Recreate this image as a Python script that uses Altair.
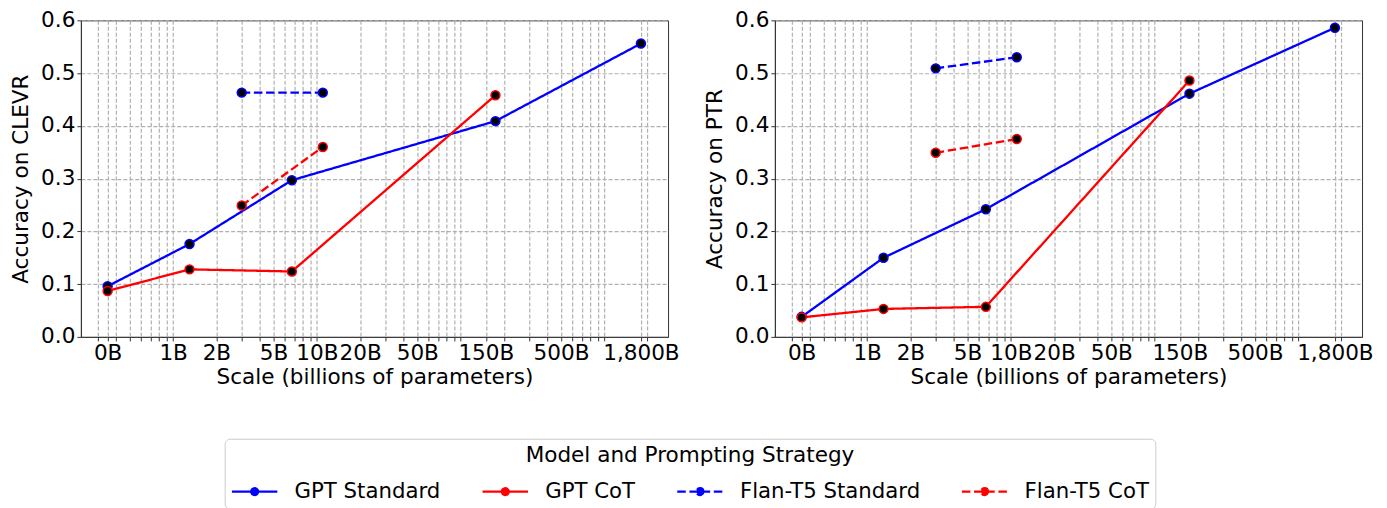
import altair as alt
import pandas as pd

# ---- data ----
series_names = ["GPT Standard", "GPT CoT", "Flan-T5 Standard", "Flan-T5 CoT"]
series_colors = ["#0000ff", "#ff0000", "#0000ff", "#ff0000"]

gpt_std_sizes = [0.35, 1.3, 6.7, 175, 1800]
gpt_cot_sizes = [0.35, 1.3, 6.7, 175]
flan_sizes = [3, 11]

clevr_gpt_std = [0.096, 0.176, 0.297, 0.409, 0.556]
clevr_gpt_cot = [0.087, 0.128, 0.124, 0.458]
clevr_flan_std = [0.463, 0.463]
clevr_flan_cot = [0.249, 0.360]

ptr_gpt_std = [0.038, 0.150, 0.242, 0.461, 0.586]
ptr_gpt_cot = [0.037, 0.053, 0.057, 0.486]
ptr_flan_std = [0.509, 0.530]
ptr_flan_cot = [0.349, 0.375]

tick_values = [0.35, 1, 2, 5, 10, 20, 50, 150, 500, 1800]
tick_labels = ["0B", "1B", "2B", "5B", "10B", "20B", "50B", "150B", "500B", "1,800B"]
minor_values = [0.3, 0.4, 0.5, 0.6, 0.7, 0.8, 0.9,
                3, 4, 6, 7, 8, 9,
                30, 40, 60, 70, 80, 90,
                100, 200, 300, 400, 600, 700, 800, 900, 1000, 2000]


def panel_frame(gs, gc, fs, fc):
    rows = []
    for name, xs, ys in [("GPT Standard", gpt_std_sizes, gs),
                         ("GPT CoT", gpt_cot_sizes, gc),
                         ("Flan-T5 Standard", flan_sizes, fs),
                         ("Flan-T5 CoT", flan_sizes, fc)]:
        for x, y in zip(xs, ys):
            rows.append({"series": name, "size": x, "acc": y})
    return pd.DataFrame(rows)


grid_values = sorted(set(tick_values + minor_values))
label_expr = "".join(
    f"datum.value == {v} ? '{t}' : " for v, t in zip(tick_values, tick_labels)
) + "''"

FONT = "DejaVu Sans"
LEGEND_TITLE = "Model and Prompting Strategy"
GRID_DASH = [4, 2]


def panel(df, ytitle):
    x = alt.X(
        "size:Q",
        scale=alt.Scale(type="log", domain=[0.228, 2780], nice=False),
        axis=alt.Axis(
            title="Scale (billions of parameters)",
            values=grid_values,
            labelExpr=label_expr,
            labelOverlap=False,
            grid=True,
            gridDash=GRID_DASH,
            gridColor="#b0b0b0",
            gridWidth=1.2,
            tickSize=4,
            labelPadding=2,
            titlePadding=2,
        ),
    )
    y = alt.Y(
        "acc:Q",
        scale=alt.Scale(domain=[0, 0.6], nice=False),
        axis=alt.Axis(
            title=ytitle,
            values=[0, 0.1, 0.2, 0.3, 0.4, 0.5, 0.6],
            format=".1f",
            grid=True,
            gridDash=GRID_DASH,
            gridColor="#b0b0b0",
            gridWidth=1.2,
            tickSize=4,
            labelPadding=2,
            titlePadding=8,
        ),
    )
    legend = alt.Legend(
        title=LEGEND_TITLE,
        orient="none",
        legendX=144,
        legendY=419,
        direction="horizontal",
        columns=4,
        titleAnchor="middle",
        titleLimit=0,
        labelLimit=0,
        symbolType="M-1,0L1,0M0.15,0A0.15,0.15,0,1,1,-0.15,0A0.15,0.15,0,1,1,0.15,0Z",
        symbolSize=2070,
        symbolStrokeWidth=2.3,
        labelOffset=16,
        columnPadding=36,
        padding=6,
        strokeColor="#cccccc",
        cornerRadius=5,
        fillColor="white",
    )
    lines = alt.Chart(df).mark_line(strokeWidth=2.3).encode(
        x=x,
        y=y,
        color=alt.Color(
            "series:N",
            scale=alt.Scale(domain=series_names, range=series_colors),
            legend=legend,
        ),
        strokeDash=alt.StrokeDash(
            "series:N",
            scale=alt.Scale(domain=series_names, range=[[1, 0], [1, 0], [8.5, 3.7], [8.5, 3.7]]),
            legend=legend,
        ),
        detail="series:N",
    )
    # invisible layer that only gives the legend symbols a coloured fill (the dot)
    legend_fill = alt.Chart(df).mark_point(filled=True, size=0, opacity=1).encode(
        x=x,
        y=y,
        fill=alt.Fill(
            "series:N",
            scale=alt.Scale(domain=series_names, range=series_colors),
            legend=legend,
        ),
    )
    points = alt.Chart(df).mark_point(
        shape="circle", filled=False, fill="black", fillOpacity=1, opacity=1,
        size=80, strokeWidth=1.5,
    ).encode(
        x=x,
        y=y,
        stroke=alt.Stroke(
            "series:N",
            scale=alt.Scale(domain=series_names, range=series_colors),
            legend=None,
        ),
    )
    return alt.layer(lines, legend_fill, points).properties(width=588, height=317)


left = panel(panel_frame(clevr_gpt_std, clevr_gpt_cot, clevr_flan_std, clevr_flan_cot),
             "Accuracy on CLEVR")
right = panel(panel_frame(ptr_gpt_std, ptr_gpt_cot, ptr_flan_std, ptr_flan_cot),
              "Accuracy on PTR")

chart = alt.hconcat(left, right, spacing=24).properties(
    padding={"left": 2, "top": 0, "right": 5, "bottom": 0}
).configure(
    font=FONT,
).configure_view(
    stroke="#333333", strokeWidth=1,
).configure_axis(
    labelFont=FONT, titleFont=FONT, labelFontSize=21.6, titleFontSize=21.6,
    labelColor="black", titleColor="black", titleFontWeight="normal",
    domainColor="#333333", tickColor="#333333",
).configure_legend(
    labelFont=FONT, titleFont=FONT, labelFontSize=21.3, titleFontSize=21.6,
    labelColor="black", titleColor="black", titleFontWeight="normal",
    titlePadding=1,
)

chart.save("out.html", embed_options={"renderer": "svg", "actions": False})
